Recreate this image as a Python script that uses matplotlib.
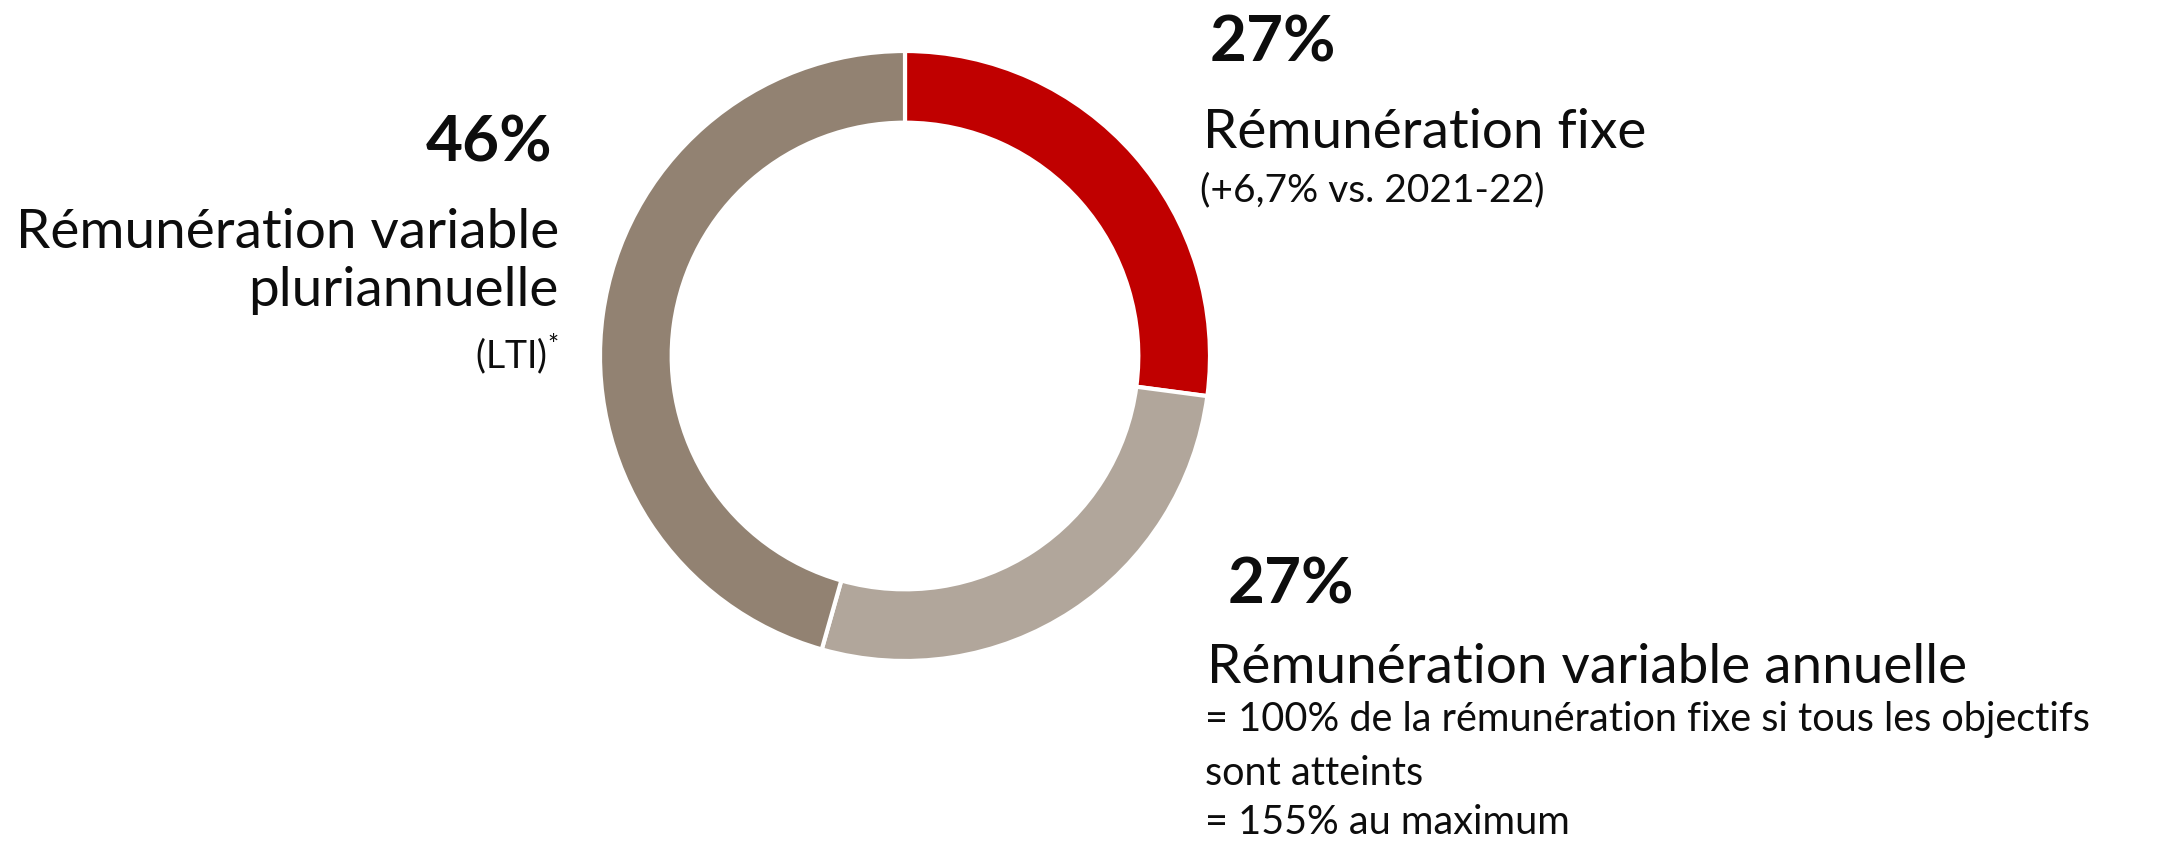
import matplotlib.pyplot as plt

parts = [27.1, 27.3, 45.6]
colors = ["#C00000", "#B1A69B", "#928272"]
percent_labels = ["27%", "27%", "46%"]

W, H = 2164, 842

plt.rcParams['font.family'] = ['Lato', 'DejaVu Sans']
plt.rcParams['mathtext.default'] = 'regular'

fig = plt.figure(figsize=(W / 100, H / 100), dpi=100)

# Anneau : centre (905, 356) px, rayon extérieur 305 px
cx, cy, r = 905, 356, 305
ax = fig.add_axes([(cx - r) / W, (H - cy - r) / H, 2 * r / W, 2 * r / H])
ax.pie(parts, colors=colors, startangle=90, counterclock=False, radius=1,
       wedgeprops=dict(width=0.235, edgecolor="white", linewidth=3))
ax.set_xlim(-1, 1)
ax.set_ylim(-1, 1)
ax.axis("off")


# Fonction pour placer un texte en pixels (origine en haut à gauche)
def txt(x, y, s, size, weight="normal", ha="left", color="#0d0d0d"):
    fig.text(x / W, 1 - y / H, s, fontsize=size, fontweight=weight,
             ha=ha, va="baseline", color=color)


# Rémunération fixe
txt(1210, 61, percent_labels[0], 46, "bold")
txt(1203, 148, "Rémunération fixe", 39.5)
txt(1200, 201, "(+6,7% vs. 2021-22)", 28)

# Rémunération variable annuelle
txt(1228, 603, percent_labels[1], 46, "bold")
txt(1207, 683, "Rémunération variable annuelle", 39.5)
txt(1205, 731, "= 100% de la rémunération fixe si tous les objectifs", 28.5)
txt(1205, 785, "sont atteints", 28.5)
txt(1205, 834, "= 155% au maximum", 28.5)

# Rémunération variable pluriannuelle
txt(552, 161, percent_labels[2], 46, "bold", ha="right")
txt(559, 248, "Rémunération variable", 39.5, ha="right")
txt(559, 306, "pluriannuelle", 39.5, ha="right")
txt(559, 368, r"(LTI)$^{*}$", 27, ha="right")

fig.savefig("out.png", dpi=100, facecolor="white")
